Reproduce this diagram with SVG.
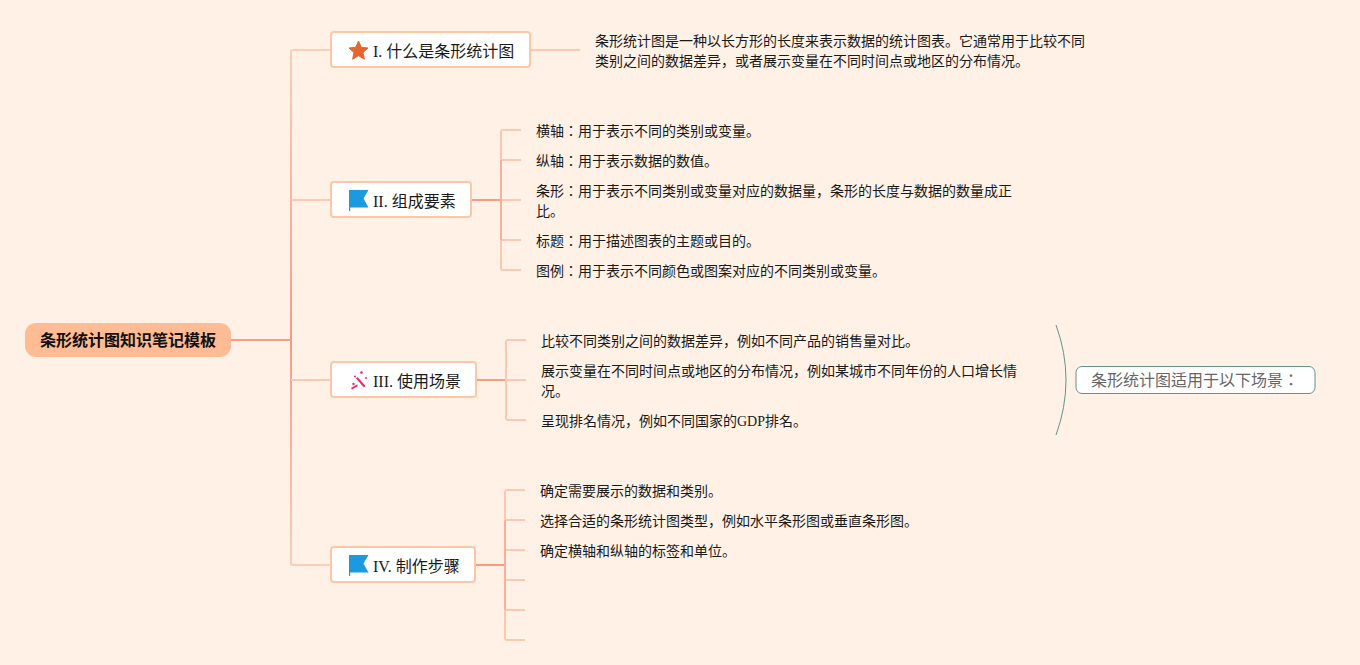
<svg xmlns="http://www.w3.org/2000/svg" width="1360" height="665" viewBox="0 0 1360 665">
<style>
text{font-family:"Liberation Serif","Noto Sans CJK JP",serif;fill:#1a1a1a}
.t{font-size:16px}
.s{font-size:14px}
.topic rect{fill:#fff;stroke:#ffc6a6;stroke-width:2}
.c path{fill:none;stroke-width:2;stroke-linecap:butt}
.l{stroke:#fcc8b2}
.m{stroke:#f9b09a}
.d{stroke:#f79c80}
</style>
<defs>
<linearGradient id="up" gradientUnits="userSpaceOnUse" x1="291" y1="340" x2="291" y2="50"><stop offset="0" stop-color="#f79c80"/><stop offset="1" stop-color="#fdcdb8"/></linearGradient>
<linearGradient id="down" gradientUnits="userSpaceOnUse" x1="291" y1="340" x2="291" y2="565"><stop offset="0" stop-color="#f79c80"/><stop offset="1" stop-color="#fdcdb8"/></linearGradient>
<symbol id="flag" viewBox="0 0 20 22"><path d="M0 22V1H19.500L14.500 9.500L19.500 18.500H1.200V22Z" fill="#1b9ae0"/></symbol>
</defs>
<rect width="1360" height="665" fill="#fff1e6"/>
<g id="connectors" class="c">
<path d="M231 340H291" class="d"/>
<path d="M291 340V52Q291 50 293 50H331" stroke="url(#up)"/>
<path d="M291 200H331" class="l"/>
<path d="M291 340V563Q291 565 293 565H331" stroke="url(#down)"/>
<path d="M291 380H331" class="l"/>
<path d="M530 50H580" class="l"/>
<path d="M471 200H501" class="d"/>
<path d="M521 130H503Q501 130 501 132V268Q501 270 503 270H521" class="l"/>
<path d="M501 160H521M501 200H521M501 240H521" class="l"/>
<path d="M501 160V240" class="m"/>
<path d="M476 380H506" class="d"/>
<path d="M526 340H508Q506 340 506 342V418Q506 420 508 420H526" class="l"/>
<path d="M506 380H526" class="l"/>
<path d="M475 565H505" class="d"/>
<path d="M525 490H507Q505 490 505 492V638Q505 640 507 640H525" class="l"/>
<path d="M505 520H525M505 550H525M505 580H525M505 610H525" class="l"/>
<path d="M505 520V610" class="m"/>
<path d="M1056 325Q1076 380 1056 435" style="stroke:#5f9685;stroke-width:1"/>
</g>
<g id="root"><rect x="25" y="323" width="206" height="34" rx="11" fill="#ffbb94"/><text x="128" y="346" text-anchor="middle" font-size="16" font-weight="700" style="fill:#111">条形统计图知识笔记模板</text></g>
<g id="topic1" class="topic"><rect x="331" y="32" width="199" height="35" rx="3"/><path d="M358.500 41L361.300 47.300L368 48L363 52.500L364.400 59.200L358.500 55.700L352.600 59.200L354 52.500L349 48L355.700 47.300Z" fill="#e5652e" stroke="#e5652e" stroke-linejoin="round"/><text class="t" x="373" y="57">I. 什么是条形统计图</text></g>
<g id="topic2" class="topic"><rect x="331" y="182" width="140" height="35" rx="3"/><use href="#flag" x="349" y="189" width="20" height="22"/><text class="t" x="373" y="207">II. 组成要素</text></g>
<g id="topic3" class="topic"><rect x="331" y="362" width="145" height="35" rx="3"/><g fill="#e8266e"><path d="M351 388L357 384.500L358 386L352 389.500Z"/><path d="M357.500 377L365.500 386L364 387.500L356 378.500Z"/><circle cx="361.500" cy="372.500" r="1.300"/><circle cx="355" cy="376.500" r="1"/><circle cx="366" cy="378" r="1"/><circle cx="353.500" cy="384" r="1.200"/></g><text class="t" x="373" y="387">III. 使用场景</text></g>
<g id="topic4" class="topic"><rect x="331" y="547" width="144" height="35" rx="3"/><use href="#flag" x="349" y="554" width="20" height="22"/><text class="t" x="373" y="572">IV. 制作步骤</text></g>
<g id="n1-1"><text class="s" x="595" y="46">条形统计图是一种以长方形的长度来表示数据的统计图表。它通常用于比较不同</text><text class="s" x="595" y="66">类别之间的数据差异，或者展示变量在不同时间点或地区的分布情况。</text></g>
<g id="n2-1"><text class="s" x="536" y="136">横轴：用于表示不同的类别或变量。</text></g>
<g id="n2-2"><text class="s" x="536" y="166">纵轴：用于表示数据的数值。</text></g>
<g id="n2-3"><text class="s" x="536" y="196">条形：用于表示不同类别或变量对应的数据量，条形的长度与数据的数量成正</text><text class="s" x="536" y="216">比。</text></g>
<g id="n2-4"><text class="s" x="536" y="246">标题：用于描述图表的主题或目的。</text></g>
<g id="n2-5"><text class="s" x="536" y="276">图例：用于表示不同颜色或图案对应的不同类别或变量。</text></g>
<g id="n3-1"><text class="s" x="541" y="346">比较不同类别之间的数据差异，例如不同产品的销售量对比。</text></g>
<g id="n3-2"><text class="s" x="541" y="376">展示变量在不同时间点或地区的分布情况，例如某城市不同年份的人口增长情</text><text class="s" x="541" y="396">况。</text></g>
<g id="n3-3"><text class="s" x="541" y="426">呈现排名情况，例如不同国家的GDP排名。</text></g>
<g id="n4-1"><text class="s" x="540" y="496">确定需要展示的数据和类别。</text></g>
<g id="n4-2"><text class="s" x="540" y="526">选择合适的条形统计图类型，例如水平条形图或垂直条形图。</text></g>
<g id="n4-3"><text class="s" x="540" y="556">确定横轴和纵轴的标签和单位。</text></g>
<g id="summary"><rect x="1076" y="366.500" width="239" height="27" rx="6" fill="#fff" stroke="#5f9685"/><text x="1091" y="386" font-size="16" style="fill:#666">条形统计图适用于以下场景：</text></g>
</svg>
